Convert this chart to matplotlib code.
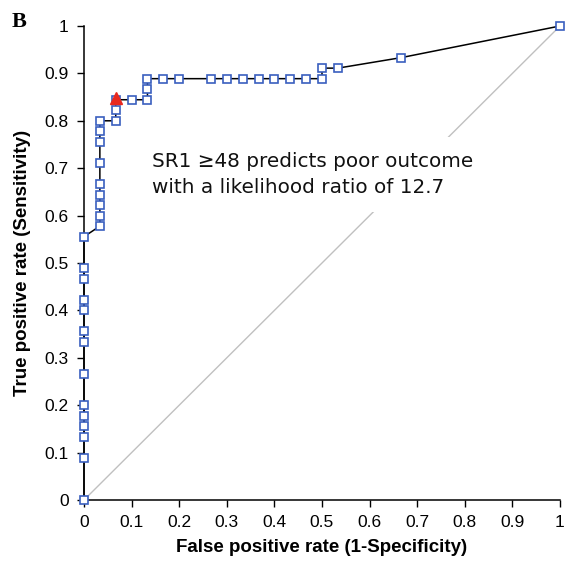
import matplotlib.pyplot as plt

# ROC points (45 positives, 30 negatives)
n_pos = 45
n_neg = 30
fp_counts = [0] * 14 + [1] * 9 + [2, 2, 2] + [3] + [4, 4, 4] + [5, 6, 8, 9, 10, 11, 12, 13, 14, 15, 15, 16, 20, 30]
tp_counts = [0, 4, 6, 7, 8, 9, 12, 15, 16, 18, 19, 21, 22, 25,
             26, 27, 28, 29, 30, 32, 34, 35, 36,
             36, 37, 38,
             38,
             38, 39, 40,
             40, 40, 40, 40, 40, 40, 40, 40, 40, 40, 41, 41, 42, 45]

fpr = [c / n_neg for c in fp_counts]
tpr = [c / n_pos for c in tp_counts]

cutoff_fpr = 2 / n_neg
cutoff_tpr = 38 / n_pos

ticks = [0, 0.1, 0.2, 0.3, 0.4, 0.5, 0.6, 0.7, 0.8, 0.9, 1]
tick_labels = ["0", "0.1", "0.2", "0.3", "0.4", "0.5", "0.6", "0.7", "0.8", "0.9", "1"]

fig = plt.figure(figsize=(5.66, 5.68), dpi=100)
ax = fig.add_axes([84 / 566, 68 / 568, 476 / 566, 474 / 568])

# chance line
ax.plot([0, 1], [0, 1], color="#c0c0c0", lw=1, zorder=1)

ax.plot(fpr, tpr, color="black", lw=1.1, marker="s", markersize=5.5,
        markerfacecolor="white", markeredgecolor="#3a5fbf", markeredgewidth=1.2,
        zorder=3, clip_on=False)
ax.plot([cutoff_fpr], [cutoff_tpr + 0.003], marker="^", markersize=9,
        color="#e8281e", linestyle="none", zorder=4)

ax.text(0.143, 0.687, "SR1 \u226548 predicts poor outcome\nwith a likelihood ratio of 12.7",
        fontsize=14.4, family="DejaVu Sans", va="center", ha="left",
        linespacing=1.42, color="#111111",
        bbox=dict(facecolor="white", edgecolor="none", pad=11), zorder=2)

ax.set_xlim(0, 1)
ax.set_ylim(0, 1)
ax.set_xticks(ticks)
ax.set_xticklabels(tick_labels, family="Liberation Sans", fontsize=12.5)
ax.set_yticks(ticks)
ax.set_yticklabels(tick_labels, family="Liberation Sans", fontsize=12.5)
ax.tick_params(direction="out", length=5, width=1, pad=6)
for side in ["top", "right"]:
    ax.spines[side].set_visible(False)
for side in ["left", "bottom"]:
    ax.spines[side].set_linewidth(1.1)

ax.set_xlabel("False positive rate (1-Specificity)", family="Liberation Sans",
              fontweight="bold", fontsize=13.5, labelpad=6)
ax.set_ylabel("True positive rate (Sensitivity)", family="Liberation Sans",
              fontweight="bold", fontsize=13.5, labelpad=10)

fig.text(12 / 566, 1 - 22 / 568, "B", family="Liberation Serif", fontweight="bold",
         fontsize=16, va="center", ha="left")

fig.savefig("out.png", dpi=100)
